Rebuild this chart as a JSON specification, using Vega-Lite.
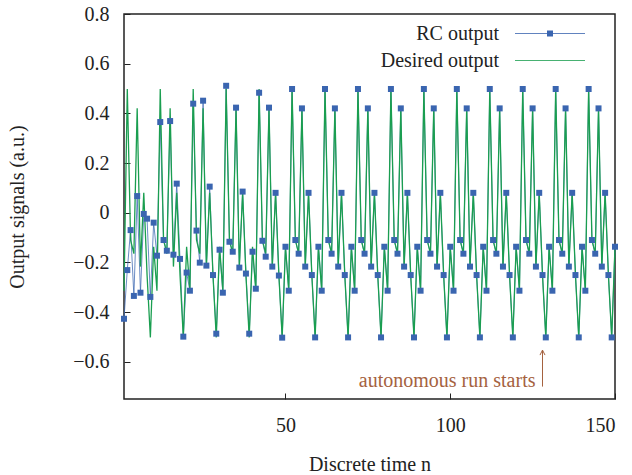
{
  "$schema": "https://vega.github.io/schema/vega-lite/v6.json",
  "width": 491,
  "height": 385,
  "autosize": "none",
  "padding": {"left": 124, "top": 14, "right": 17, "bottom": 76},
  "background": "white",
  "config": {
    "font": "Liberation Serif",
    "view": {"stroke": "#222", "strokeWidth": 1.5},
    "axis": {
      "domain": false, "grid": false, "tickSize": -6, "tickColor": "#222", "tickWidth": 1,
      "labelFont": "Liberation Serif", "labelFontSize": 20, "labelColor": "#222",
      "titleFont": "Liberation Serif", "titleFontSize": 20, "titleFontWeight": "normal", "titleColor": "#222"
    }
  },
  "datasets": {
    "sig": [
      {"n":1,"rc":-0.427,"d":-0.314},{"n":2,"rc":-0.231,"d":0.498},{"n":3,"rc":-0.070,"d":-0.110},{"n":4,"rc":-0.335,"d":-0.165},{"n":5,"rc":0.067,"d":0.420},
      {"n":6,"rc":-0.322,"d":-0.217},{"n":7,"rc":-0.005,"d":0.080},{"n":8,"rc":-0.024,"d":-0.251},{"n":9,"rc":-0.339,"d":-0.502},{"n":10,"rc":-0.040,"d":-0.137},
      {"n":11,"rc":-0.173,"d":-0.314},{"n":12,"rc":0.365,"d":0.498},{"n":13,"rc":-0.110,"d":-0.110},{"n":14,"rc":-0.153,"d":-0.165},{"n":15,"rc":0.369,"d":0.420},
      {"n":16,"rc":-0.169,"d":-0.217},{"n":17,"rc":0.117,"d":0.080},{"n":18,"rc":-0.186,"d":-0.251},{"n":19,"rc":-0.499,"d":-0.502},{"n":20,"rc":-0.241,"d":-0.137},
      {"n":21,"rc":-0.314,"d":-0.314},{"n":22,"rc":0.439,"d":0.498},{"n":23,"rc":-0.072,"d":-0.110},{"n":24,"rc":-0.201,"d":-0.165},{"n":25,"rc":0.451,"d":0.420},
      {"n":26,"rc":-0.213,"d":-0.217},{"n":27,"rc":0.105,"d":0.080},{"n":28,"rc":-0.251,"d":-0.251},{"n":29,"rc":-0.487,"d":-0.502},{"n":30,"rc":-0.149,"d":-0.137},
      {"n":31,"rc":-0.322,"d":-0.314},{"n":32,"rc":0.511,"d":0.498},{"n":33,"rc":-0.117,"d":-0.110},{"n":34,"rc":-0.157,"d":-0.165},{"n":35,"rc":0.423,"d":0.420},
      {"n":36,"rc":-0.221,"d":-0.217},{"n":37,"rc":0.085,"d":0.080},{"n":38,"rc":-0.245,"d":-0.251},{"n":39,"rc":-0.487,"d":-0.502},{"n":40,"rc":-0.157,"d":-0.137},
      {"n":41,"rc":-0.306,"d":-0.314},{"n":42,"rc":0.483,"d":0.498},{"n":43,"rc":-0.113,"d":-0.110},{"n":44,"rc":-0.177,"d":-0.165},{"n":45,"rc":0.423,"d":0.420},
      {"n":46,"rc":-0.217,"d":-0.217},{"n":47,"rc":0.080,"d":0.080},{"n":48,"rc":-0.253,"d":-0.251},{"n":49,"rc":-0.503,"d":-0.502},{"n":50,"rc":-0.137,"d":-0.137},
      {"n":51,"rc":-0.314,"d":-0.314},{"n":52,"rc":0.498,"d":0.498},{"n":53,"rc":-0.110,"d":-0.110},{"n":54,"rc":-0.165,"d":-0.165},{"n":55,"rc":0.420,"d":0.420},
      {"n":56,"rc":-0.217,"d":-0.217},{"n":57,"rc":0.080,"d":0.080},{"n":58,"rc":-0.251,"d":-0.251},{"n":59,"rc":-0.502,"d":-0.502},{"n":60,"rc":-0.137,"d":-0.137},
      {"n":61,"rc":-0.314,"d":-0.314},{"n":62,"rc":0.498,"d":0.498},{"n":63,"rc":-0.110,"d":-0.110},{"n":64,"rc":-0.165,"d":-0.165},{"n":65,"rc":0.420,"d":0.420},
      {"n":66,"rc":-0.217,"d":-0.217},{"n":67,"rc":0.080,"d":0.080},{"n":68,"rc":-0.251,"d":-0.251},{"n":69,"rc":-0.502,"d":-0.502},{"n":70,"rc":-0.137,"d":-0.137},
      {"n":71,"rc":-0.314,"d":-0.314},{"n":72,"rc":0.498,"d":0.498},{"n":73,"rc":-0.110,"d":-0.110},{"n":74,"rc":-0.165,"d":-0.165},{"n":75,"rc":0.420,"d":0.420},
      {"n":76,"rc":-0.217,"d":-0.217},{"n":77,"rc":0.080,"d":0.080},{"n":78,"rc":-0.251,"d":-0.251},{"n":79,"rc":-0.502,"d":-0.502},{"n":80,"rc":-0.137,"d":-0.137},
      {"n":81,"rc":-0.314,"d":-0.314},{"n":82,"rc":0.498,"d":0.498},{"n":83,"rc":-0.110,"d":-0.110},{"n":84,"rc":-0.165,"d":-0.165},{"n":85,"rc":0.420,"d":0.420},
      {"n":86,"rc":-0.217,"d":-0.217},{"n":87,"rc":0.080,"d":0.080},{"n":88,"rc":-0.251,"d":-0.251},{"n":89,"rc":-0.502,"d":-0.502},{"n":90,"rc":-0.137,"d":-0.137},
      {"n":91,"rc":-0.314,"d":-0.314},{"n":92,"rc":0.498,"d":0.498},{"n":93,"rc":-0.110,"d":-0.110},{"n":94,"rc":-0.165,"d":-0.165},{"n":95,"rc":0.420,"d":0.420},
      {"n":96,"rc":-0.217,"d":-0.217},{"n":97,"rc":0.080,"d":0.080},{"n":98,"rc":-0.251,"d":-0.251},{"n":99,"rc":-0.502,"d":-0.502},{"n":100,"rc":-0.137,"d":-0.137},
      {"n":101,"rc":-0.314,"d":-0.314},{"n":102,"rc":0.498,"d":0.498},{"n":103,"rc":-0.110,"d":-0.110},{"n":104,"rc":-0.165,"d":-0.165},{"n":105,"rc":0.420,"d":0.420},
      {"n":106,"rc":-0.217,"d":-0.217},{"n":107,"rc":0.080,"d":0.080},{"n":108,"rc":-0.251,"d":-0.251},{"n":109,"rc":-0.502,"d":-0.502},{"n":110,"rc":-0.137,"d":-0.137},
      {"n":111,"rc":-0.314,"d":-0.314},{"n":112,"rc":0.498,"d":0.498},{"n":113,"rc":-0.110,"d":-0.110},{"n":114,"rc":-0.165,"d":-0.165},{"n":115,"rc":0.420,"d":0.420},
      {"n":116,"rc":-0.217,"d":-0.217},{"n":117,"rc":0.080,"d":0.080},{"n":118,"rc":-0.251,"d":-0.251},{"n":119,"rc":-0.502,"d":-0.502},{"n":120,"rc":-0.137,"d":-0.137},
      {"n":121,"rc":-0.314,"d":-0.314},{"n":122,"rc":0.498,"d":0.498},{"n":123,"rc":-0.110,"d":-0.110},{"n":124,"rc":-0.165,"d":-0.165},{"n":125,"rc":0.420,"d":0.420},
      {"n":126,"rc":-0.217,"d":-0.217},{"n":127,"rc":0.080,"d":0.080},{"n":128,"rc":-0.251,"d":-0.251},{"n":129,"rc":-0.502,"d":-0.502},{"n":130,"rc":-0.137,"d":-0.137},
      {"n":131,"rc":-0.314,"d":-0.314},{"n":132,"rc":0.498,"d":0.498},{"n":133,"rc":-0.110,"d":-0.110},{"n":134,"rc":-0.165,"d":-0.165},{"n":135,"rc":0.420,"d":0.420},
      {"n":136,"rc":-0.217,"d":-0.217},{"n":137,"rc":0.080,"d":0.080},{"n":138,"rc":-0.251,"d":-0.251},{"n":139,"rc":-0.502,"d":-0.502},{"n":140,"rc":-0.137,"d":-0.137},
      {"n":141,"rc":-0.314,"d":-0.314},{"n":142,"rc":0.498,"d":0.498},{"n":143,"rc":-0.110,"d":-0.110},{"n":144,"rc":-0.165,"d":-0.165},{"n":145,"rc":0.420,"d":0.420},
      {"n":146,"rc":-0.217,"d":-0.217},{"n":147,"rc":0.080,"d":0.080},{"n":148,"rc":-0.251,"d":-0.251},{"n":149,"rc":-0.502,"d":-0.502},{"n":150,"rc":-0.137,"d":-0.137}
    ],
    "note": [{"n": 128, "y": -0.70, "y2": -0.553, "label": "autonomous run starts"}]
  },
  "layer": [
    {
      "data": {"name": "sig"},
      "mark": {"type": "line", "strokeWidth": 1, "opacity": 0.75},
      "encoding": {
        "x": {"field": "n", "type": "quantitative", "scale": {"domain": [1, 150], "nice": false, "zero": false},
              "axis": {"values": [50, 100, 150], "labelPadding": 22, "title": "Discrete time n", "titlePadding": 19}},
        "y": {"field": "rc", "type": "quantitative", "scale": {"domain": [-0.75, 0.8], "nice": false, "zero": false},
              "axis": {"values": [-0.6, -0.4, -0.2, 0, 0.2, 0.4, 0.6, 0.8], "labelPadding": 21, "titlePadding": 45,
                       "title": "Output signals (a.u.)",
                       "labelExpr": "datum.value == 0 ? '0' : replace(format(datum.value, '.1f'), '-', '\u2212')"}},
        "color": {"datum": "RC output", "type": "nominal",
                  "scale": {"domain": ["RC output", "Desired output"], "range": ["#3a65b0", "#1a9e50"]},
                  "legend": {
                    "orient": "none", "legendX": 355, "legendY": 9.5, "title": null, "padding": 0,
                    "rowPadding": 7, "labelAlign": "right", "labelOffset": 0, "symbolOffset": 0,
                    "labelFontSize": 20, "labelFont": "Liberation Serif", "labelColor": "#222",
                    "symbolType": "M5.2,0H19.2", "symbolSize": 100, "symbolStrokeWidth": 1.2,
                    "symbolOpacity": 0.8
                  }}
      }
    },
    {
      "data": {"name": "sig"},
      "mark": {"type": "line", "strokeWidth": 1.3},
      "encoding": {
        "x": {"field": "n", "type": "quantitative"},
        "y": {"field": "d", "type": "quantitative"},
        "color": {"datum": "Desired output", "type": "nominal"}
      }
    },
    {
      "data": {"name": "sig"},
      "mark": {"type": "point", "shape": "square", "filled": true, "size": 36, "opacity": 1},
      "encoding": {
        "x": {"field": "n", "type": "quantitative"},
        "y": {"field": "rc", "type": "quantitative"},
        "fill": {"datum": "RC output", "type": "nominal",
                 "scale": {"domain": ["RC output"], "range": ["#3a65b0"]},
                 "legend": {
                   "orient": "none", "legendX": 416, "legendY": 9.5, "title": null, "padding": 0,
                   "labelFontSize": 20, "labelExpr": "''", "symbolType": "square", "symbolSize": 36,
                   "symbolStrokeWidth": 0, "symbolOpacity": 1
                 }}
      }
    },
    {
      "data": {"name": "note"},
      "mark": {"type": "rule", "color": "#a5623f", "strokeWidth": 1},
      "encoding": {
        "x": {"field": "n", "type": "quantitative"},
        "y": {"field": "y", "type": "quantitative"},
        "y2": {"field": "y2"}
      }
    },
    {
      "data": {"name": "note"},
      "mark": {"type": "point", "shape": "M-1,2L0,0L1,2", "filled": false, "size": 25, "strokeWidth": 1, "color": "#a5623f", "opacity": 1},
      "encoding": {
        "x": {"field": "n", "type": "quantitative"},
        "y": {"field": "y2", "type": "quantitative"}
      }
    },
    {
      "data": {"name": "note"},
      "mark": {"type": "text", "align": "right", "baseline": "alphabetic", "dx": -7, "fontSize": 20, "font": "Liberation Serif", "color": "#a5623f"},
      "encoding": {
        "x": {"field": "n", "type": "quantitative"},
        "y": {"field": "y", "type": "quantitative"},
        "text": {"field": "label"}
      }
    }
  ]
}
